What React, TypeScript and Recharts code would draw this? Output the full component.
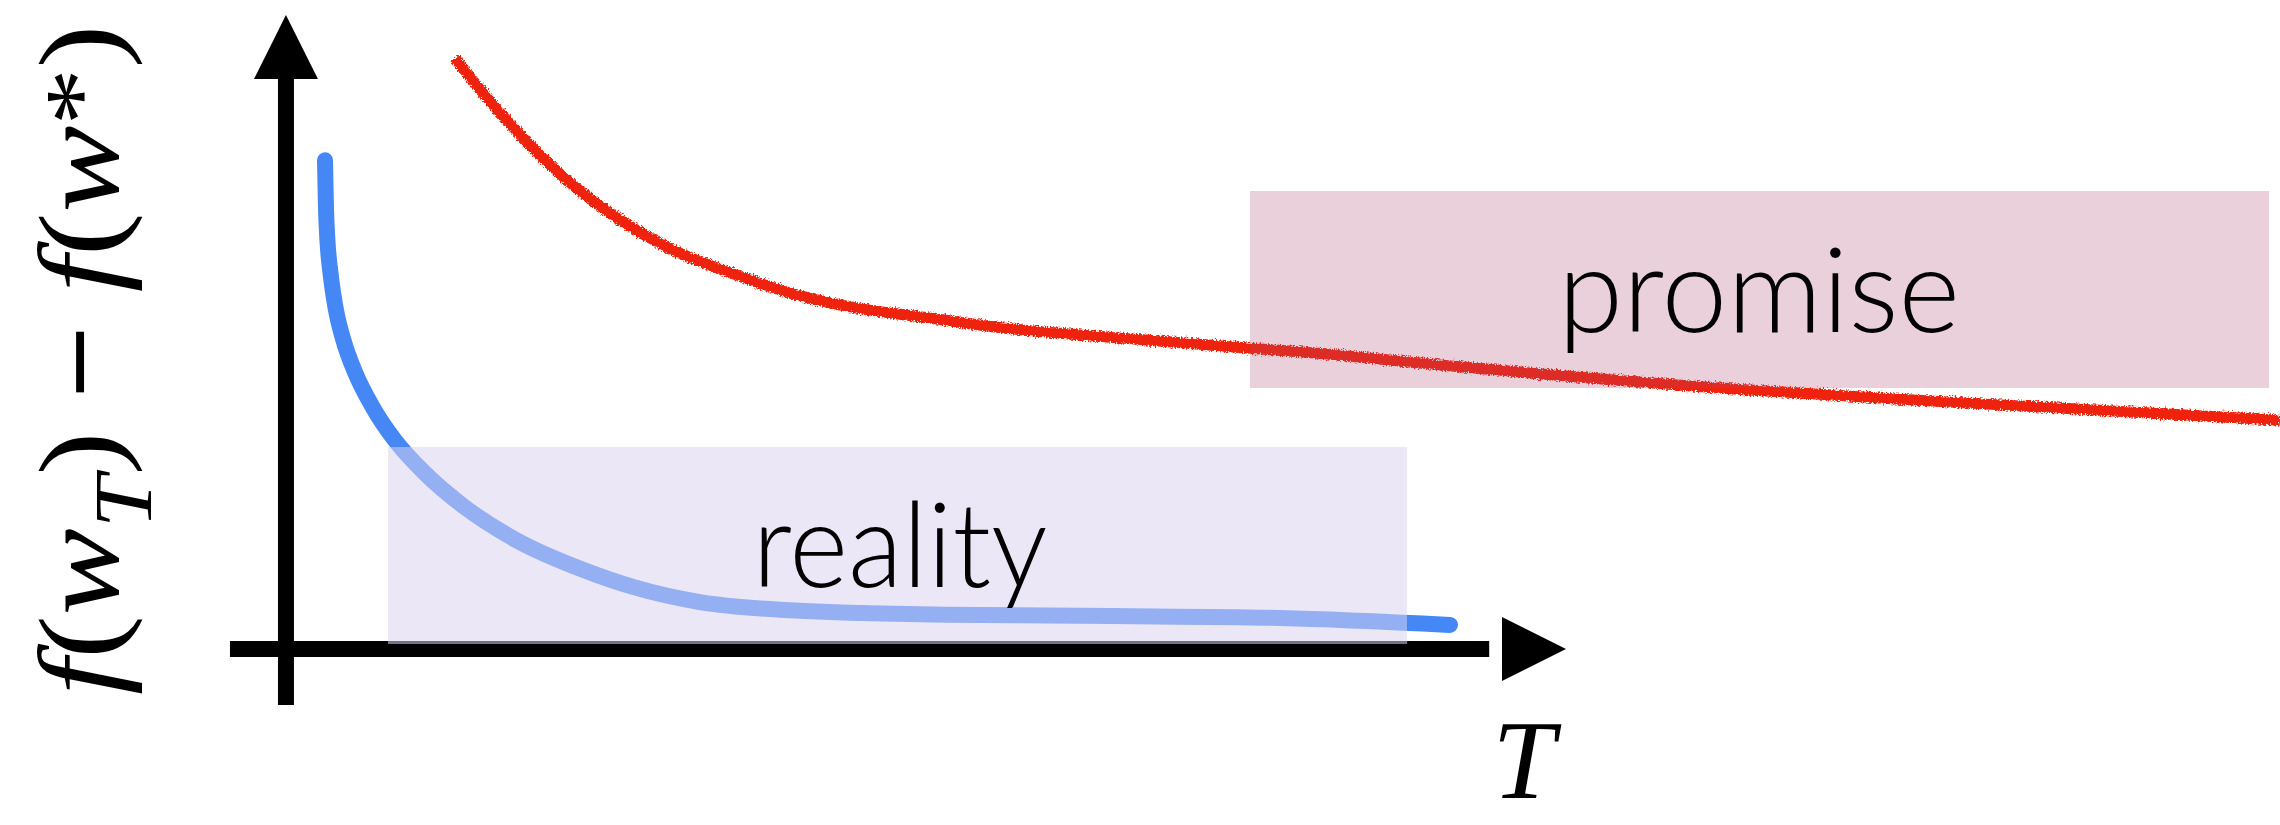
import React from 'react';
import { ComposedChart, Line, XAxis, YAxis, ReferenceArea, ReferenceLine, ReferenceDot } from 'recharts';

const WIDTH = 2280;
const HEIGHT = 825;

// both axes run 0..10 from the origin to the arrow tips
const T_DOMAIN = [-2.234, 15.578];
const F_DOMAIN = [-2.776, 10.237];

// blue curve ("reality")
const realityT = [0.305, 0.3125, 0.324, 0.348, 0.387, 0.449, 0.543, 0.676, 0.848, 1.082, 1.395, 1.797, 2.32, 2.711, 3.234, 3.859, 5.164, 6.461, 7.766, 9.094];
const realityF = [7.71, 6.97, 6.45, 5.93, 5.39, 4.87, 4.35, 3.82, 3.3, 2.78, 2.24, 1.72, 1.25, 0.98, 0.74, 0.62, 0.54, 0.52, 0.49, 0.38];

// red curve ("promise")
const promiseT = [1.32, 1.594, 1.906, 2.258, 2.609, 2.977, 3.492, 4.016, 4.43, 5.031, 5.625, 6.227, 6.82, 7.422, 7.922, 9.125, 11.398, 12.609, 13.672, 15.578];
const promiseF = [9.32, 8.64, 7.95, 7.29, 6.77, 6.34, 5.92, 5.57, 5.39, 5.22, 5.06, 4.95, 4.86, 4.76, 4.69, 4.46, 4.09, 3.94, 3.82, 3.61];

// shaded boxes: [t1, t2, f1, f2]
const realityBox = [0.797, 8.758, 0.079, 3.186];
const promiseBox = [7.531, 15.492, 4.117, 7.224];

// label anchors: [t, f]
const realityLabelAt = [4.797, 0.978];
const promiseLabelAt = [11.508, 5.0];
const tLabelAt = [9.67, -2.35];
const fLabelAt = [-1.3125, 4.56];

const AXIS_MAX = 10;

const realityData = realityT.map((t, i) => ({ t, f: realityF[i] }));
const promiseData = promiseT.map((t, i) => ({ t, f: promiseF[i] }));

const SANS = 'Lato, "Open Sans", sans-serif';
const SERIF = '"Liberation Serif", "DejaVu Serif", serif';

const upArrow = (p: any) => (
  <polygon points={`${p.cx},${p.cy} ${p.cx - 32},${p.cy + 64} ${p.cx + 32},${p.cy + 64}`} fill="#000" />
);
const rightArrow = (p: any) => (
  <polygon points={`${p.cx},${p.cy} ${p.cx - 64},${p.cy - 32} ${p.cx - 64},${p.cy + 32}`} fill="#000" />
);

const boxLabel = (text: string, len: number) => (p: any) => (
  <text x={p.cx} y={p.cy} textAnchor="middle" fontFamily={SANS} fontWeight={300} fontSize={118}
    textLength={len} lengthAdjust="spacingAndGlyphs" fill="#000">{text}</text>
);

const tLabel = (p: any) => (
  <text x={p.cx} y={p.cy} textAnchor="middle" fontFamily={SERIF} fontStyle="italic" fontSize={112} fill="#000">T</text>
);

const fLabel = (p: any) => (
  <text x={p.cx} y={p.cy} transform={`rotate(-90 ${p.cx} ${p.cy})`} textAnchor="middle"
    fontFamily={SERIF} fontSize={114} fill="#000" textLength={670} lengthAdjust="spacingAndGlyphs">
    <tspan fontStyle="italic">f</tspan>
    <tspan>(</tspan>
    <tspan fontStyle="italic">w</tspan>
    <tspan fontStyle="italic" fontSize={83} dy={33}>T</tspan>
    <tspan dy={-33}>)</tspan>
    <tspan fontWeight="bold"> − </tspan>
    <tspan fontStyle="italic">f</tspan>
    <tspan>(</tspan>
    <tspan fontStyle="italic">w</tspan>
    <tspan fontSize={100} dy={-5}>*</tspan>
    <tspan dy={5}>)</tspan>
  </text>
);

export default function App() {
  return (
    <div style={{ position: 'absolute', left: 0, top: 0, background: '#fff' }}>
      <ComposedChart width={WIDTH} height={HEIGHT} margin={{ top: 0, right: 0, bottom: 0, left: 0 }}>
        <defs>
          <filter id="pencil" x="-5%" y="-20%" width="110%" height="140%">
            <feTurbulence type="fractalNoise" baseFrequency="0.6" numOctaves={2} seed={4} result="noise" />
            <feDisplacementMap in="SourceGraphic" in2="noise" scale={6} xChannelSelector="R" yChannelSelector="G" />
          </filter>
        </defs>
        <XAxis type="number" dataKey="t" domain={T_DOMAIN} allowDataOverflow hide />
        <YAxis type="number" dataKey="f" domain={F_DOMAIN} allowDataOverflow hide />

        {/* axes */}
        <ReferenceLine zIndex={5} segment={[{ x: 0, y: -0.883 }, { x: 0, y: AXIS_MAX - 0.6 }]} stroke="#000" strokeWidth={16} />
        <ReferenceLine zIndex={5} segment={[{ x: -0.4375, y: 0 }, { x: AXIS_MAX - 0.6, y: 0 }]} stroke="#000" strokeWidth={16} />
        <ReferenceDot zIndex={5} x={0} y={AXIS_MAX} r={1} shape={upArrow} />
        <ReferenceDot zIndex={5} x={AXIS_MAX} y={0} r={1} shape={rightArrow} />

        <Line zIndex={10} data={realityData} dataKey="f" type="monotone" stroke="#4587f4" strokeWidth={16}
          strokeLinecap="round" dot={false} activeDot={false} isAnimationActive={false} />
        <Line zIndex={20} data={promiseData} dataKey="f" type="monotone" stroke="#ee2211" strokeWidth={11}
          filter="url(#pencil)" dot={false} activeDot={false} isAnimationActive={false} />

        <ReferenceArea zIndex={30} x1={realityBox[0]} x2={realityBox[1]} y1={realityBox[2]} y2={realityBox[3]}
          fill="rgb(218,210,240)" fillOpacity={0.54} stroke="none" />
        <ReferenceArea zIndex={30} x1={promiseBox[0]} x2={promiseBox[1]} y1={promiseBox[2]} y2={promiseBox[3]}
          fill="rgb(172,71,110)" fillOpacity={0.255} stroke="none" />

        <ReferenceDot zIndex={50} x={realityLabelAt[0]} y={realityLabelAt[1]} r={1} shape={boxLabel('reality', 295)} />
        <ReferenceDot zIndex={50} x={promiseLabelAt[0]} y={promiseLabelAt[1]} r={1} shape={boxLabel('promise', 402)} />
        <ReferenceDot zIndex={50} x={tLabelAt[0]} y={tLabelAt[1]} r={1} shape={tLabel} />
        <ReferenceDot zIndex={50} x={fLabelAt[0]} y={fLabelAt[1]} r={1} shape={fLabel} />
      </ComposedChart>
    </div>
  );
}
